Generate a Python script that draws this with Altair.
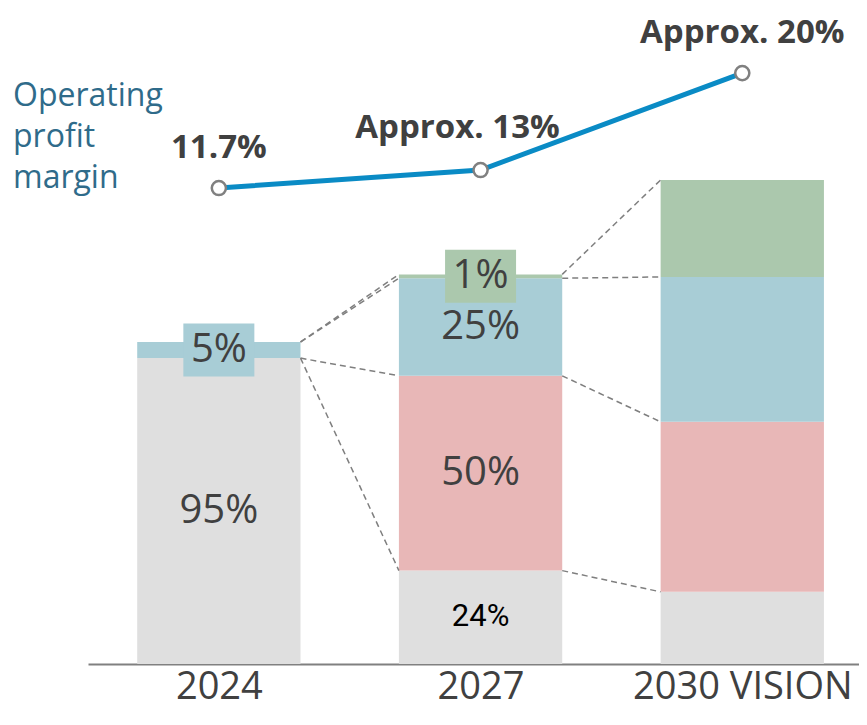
import altair as alt
import pandas as pd

# ---------------- data ----------------
years = ["2024", "2027", "2030 VISION"]
seg_names = ["grey", "red", "blue", "green"]          # bottom -> top
seg_grey = [95, 29, 22.4]       # index, 2024 total = 100
seg_red = [0, 60.5, 52.8]
seg_blue = [5, 30.3, 45.0]
seg_green = [0, 1.2, 30.1]
lab_grey = ["95%", "24%", ""]
lab_red = ["", "50%", ""]
lab_blue = ["5%", "25%", ""]
lab_green = ["", "1%", ""]
margin_vals = [11.7, 13, 20]
margin_labels = ["11.7%", "Approx. 13%", "Approx. 20%"]
margin_title = "Operating\nprofit\nmargin"

seg_colors = ["#dfdfdf", "#e8b7b7", "#a8cdd6", "#abc8ad"]

# ---------------- tables ----------------
seg_vals = [seg_grey, seg_red, seg_blue, seg_green]
seg_labs = [lab_grey, lab_red, lab_blue, lab_green]
rows = []
for i in range(len(years)):
    cum = 0.0
    for s, vals, labs in zip(seg_names, seg_vals, seg_labs):
        v = vals[i]
        rows.append(dict(idx=i, seg=s, val=v, lo=cum, hi=cum + v,
                         mid=cum + v / 2, label=labs[i]))
        cum += v
seg_df = pd.DataFrame(rows)

conn_rows = []
for i in range(len(years) - 1):
    for s in seg_names:
        a = seg_df[(seg_df.idx == i) & (seg_df.seg == s)].iloc[0]
        b = seg_df[(seg_df.idx == i + 1) & (seg_df.seg == s)].iloc[0]
        conn_rows.append(dict(idx=i, seg=s, ya=a.hi, yb=b.hi))
conn_df = pd.DataFrame(conn_rows)

line_df = pd.DataFrame({"idx": list(range(len(years))),
                        "m": margin_vals, "lab": margin_labels})
title_df = pd.DataFrame({"t": [margin_title]})

# ---------------- style ----------------
HALF = 0.312
FONT = "Open Sans"
TXT = "#404040"
label_expr = "[" + ",".join("'%s'" % y for y in years) + "][datum.value]"

xscale = alt.Scale(domain=[-0.5, 2.446], nice=False, zero=False)
yscale = alt.Scale(domain=[0, 200], nice=False, zero=False)
mscale = alt.Scale(domain=[-22.66, 23.83], nice=False, zero=False)
cscale = alt.Scale(domain=seg_names, range=seg_colors)

x_axis = alt.Axis(values=list(range(len(years))), labelExpr=label_expr,
                  title=None, grid=False, ticks=False, tickSize=0,
                  domainColor="#808080", domainWidth=2,
                  labelFontSize=38, labelColor=TXT, labelFont=FONT,
                  labelPadding=4, labelFlush=False, labelOverlap=False,
                  labelBound=False, labelLimit=0)


def X(field):
    return alt.X(field, scale=xscale, axis=x_axis)


base = alt.Chart(seg_df)

bars = base.transform_filter("datum.val > 0").transform_calculate(
    xl="datum.idx - %f" % HALF, xr="datum.idx + %f" % HALF
).mark_rect().encode(
    x=X("xl:Q"),
    x2="xr:Q",
    y=alt.Y("lo:Q", scale=yscale, axis=None),
    y2="hi:Q",
    color=alt.Color("seg:N", scale=cscale, legend=None),
)

connectors = alt.Chart(conn_df).transform_calculate(
    xa="datum.idx + %f" % HALF, xb="datum.idx + 1 - %f" % HALF
).mark_rule(color="#7f7f7f", strokeWidth=1.5, strokeDash=[6, 4]).encode(
    x=X("xa:Q"),
    x2="xb:Q",
    y=alt.Y("ya:Q", scale=yscale, axis=None),
    y2="yb:Q",
)

boxes = base.transform_filter(
    "datum.val > 0 && datum.val < 10 && datum.label != ''"
).mark_point(
    shape="M-1,-0.746L1,-0.746L1,0.746L-1,0.746Z",
    size=71 * 71, filled=True, opacity=1, strokeWidth=0,
).encode(
    x=X("idx:Q"),
    y=alt.Y("mid:Q", scale=yscale, axis=None),
    color=alt.Color("seg:N", scale=cscale, legend=None),
)

labels = base.transform_filter(
    "datum.label != '' && !(datum.idx == 1 && datum.seg == 'grey')"
).mark_text(fontSize=40, color=TXT, font=FONT).encode(
    x=X("idx:Q"),
    y=alt.Y("mid:Q", scale=yscale, axis=None),
    text="label:N",
)

labels_small = base.transform_filter(
    "datum.label != '' && datum.idx == 1 && datum.seg == 'grey'"
).mark_text(fontSize=31, color="#000000",
            font="Liberation Sans Narrow, Roboto").encode(
    x=X("idx:Q"),
    y=alt.Y("mid:Q", scale=yscale, axis=None),
    text="label:N",
)

title_txt = alt.Chart(title_df).mark_text(
    lineBreak="\n", align="left", baseline="alphabetic", fontSize=32,
    lineHeight=41, color="#2f6b8a", font=FONT,
).encode(x=alt.value(-75), y=alt.value(86), text="t:N")

bar_layer = alt.layer(bars, connectors, boxes, labels, labels_small, title_txt)

lbase = alt.Chart(line_df)
line = lbase.mark_line(color="#0a8bc5", strokeWidth=5).encode(
    x=X("idx:Q"),
    y=alt.Y("m:Q", scale=mscale, axis=None),
)
points = lbase.mark_point(shape="circle", size=200, fill="white",
                          stroke="#808080", strokeWidth=2.5, opacity=1,
                          fillOpacity=1).encode(
    x=X("idx:Q"),
    y=alt.Y("m:Q", scale=mscale, axis=None),
)
mlabels = lbase.transform_filter("datum.idx != 1").mark_text(
    fontSize=33, fontWeight="bold", color=TXT, font=FONT, dy=-40
).encode(
    x=X("idx:Q"),
    y=alt.Y("m:Q", scale=mscale, axis=None),
    text="lab:N",
)
mlabel_mid = lbase.transform_filter("datum.idx == 1").mark_text(
    fontSize=33, fontWeight="bold", color=TXT, font=FONT, dy=-42, dx=-23
).encode(
    x=X("idx:Q"),
    y=alt.Y("m:Q", scale=mscale, axis=None),
    text="lab:N",
)
line_layer = alt.layer(line, points, mlabels, mlabel_mid)

chart = alt.layer(bar_layer, line_layer).resolve_scale(
    y="independent"
).properties(
    width=771, height=644,
    autosize=alt.AutoSizeParams(type="none"),
    padding={"left": 80, "top": 12, "right": 0, "bottom": 46},
).configure_view(strokeWidth=0)

chart.save("out.html", embed_options={"renderer": "svg", "actions": False})
